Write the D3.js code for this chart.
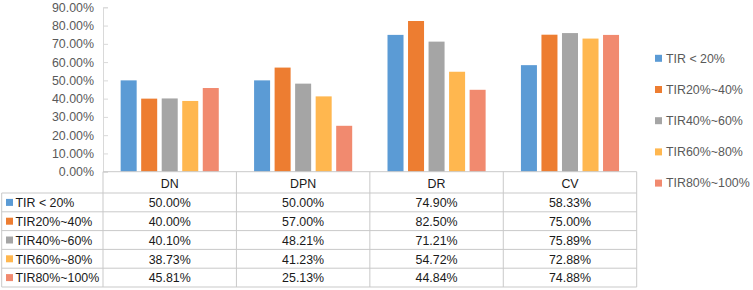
<!DOCTYPE html>
<html>
<head>
<meta charset="utf-8">
<script src="https://cdn.jsdelivr.net/npm/d3@7"></script>
<style>
  body { margin: 0; background: #fff; }
  svg text { font-family: "Liberation Sans", Arial, sans-serif; font-size: 12.4px; }
</style>
</head>
<body>
<svg class="tir-chart" width="753" height="290"></svg>
<script>
/**********************
 Data
**********************/
var categories = ["DN", "DPN", "DR", "CV"];
var series = ["TIR < 20%", "TIR20%~40%", "TIR40%~60%", "TIR60%~80%", "TIR80%~100%"];
var colors = ["#5b9bd5", "#ed7d31", "#a5a5a5", "#ffb74f", "#f18a6f"];
// one row per series, values in percent, same order as categories
var valuesLt20 = [50.00, 50.00, 74.90, 58.33];
var values20to40 = [40.00, 57.00, 82.50, 75.00];
var values40to60 = [40.10, 48.21, 71.21, 75.89];
var values60to80 = [38.73, 41.23, 54.72, 72.88];
var values80to100 = [45.81, 25.13, 44.84, 74.88];
var yTicks = [0, 10, 20, 30, 40, 50, 60, 70, 80, 90];

var rows = [valuesLt20, values20to40, values40to60, values60to80, values80to100];

/**********************
 Layout
**********************/
var svg = d3.select('svg.tir-chart');
var plot = {l: 103, r: 636.7, t: 7.3, b: 171.7};
var headerH = 21.3, rowH = 18.8;
var gridColor = '#c9c9c9';

var x0 = d3.scaleBand().domain(categories).range([plot.l, plot.r]);
var x1 = d3.scaleBand().domain(series)
    .range([0, x0.bandwidth()])
    .paddingInner(0.22)
    .paddingOuter(0.86);
var yScale = d3.scaleLinear().domain([0, 90]).range([plot.b, plot.t]);

/**********************
 Y axis
**********************/
var yAxisG = svg.append('g')
    .attr('transform', 'translate(' + plot.l + ',0)')
    .call(d3.axisLeft(yScale)
        .tickValues(yTicks)
        .tickSize(-5)
        .tickPadding(9)
        .tickFormat(function(d) { return d3.format('.2f')(d) + '%'; }));
yAxisG.select('.domain').attr('stroke', '#d9d9d9');
yAxisG.selectAll('.tick line').attr('stroke', '#d9d9d9');
yAxisG.selectAll('.tick text')
    .attr('fill', '#595959')
    .style('font-size', '12.4px')
    .style('font-family', '"Liberation Sans", Arial, sans-serif');

/**********************
 Bars
**********************/
var groups = svg.selectAll('.group')
    .data(categories)
    .enter().append('g')
    .attr('class', 'group')
    .attr('transform', function(d) { return 'translate(' + x0(d) + ',0)'; });

groups.selectAll('rect')
    .data(function(d, ci) {
        return series.map(function(s, si) { return {s: s, si: si, v: rows[si][ci]}; });
    })
    .enter().append('rect')
    .attr('x', function(d) { return x1(d.s); })
    .attr('width', x1.bandwidth())
    .attr('y', function(d) { return yScale(d.v); })
    .attr('height', function(d) { return plot.b - yScale(d.v); })
    .attr('fill', function(d) { return colors[d.si]; });

/**********************
 Data table
**********************/
var tableTop = plot.b;
var tableLeft = 1.7;
var tableBottom = tableTop + headerH + rowH * series.length;
var tbl = svg.append('g').attr('class', 'data-table');

// horizontal lines
tbl.append('line')
    .attr('x1', plot.l).attr('x2', plot.r)
    .attr('y1', tableTop).attr('y2', tableTop);
d3.range(series.length + 1).forEach(function(i) {
    var yy = tableTop + headerH + i * rowH;
    tbl.append('line')
        .attr('x1', tableLeft).attr('x2', plot.r)
        .attr('y1', yy).attr('y2', yy);
});
// vertical lines
tbl.append('line')
    .attr('x1', tableLeft).attr('x2', tableLeft)
    .attr('y1', tableTop + headerH).attr('y2', tableBottom);
categories.concat(['end']).forEach(function(c, i) {
    var xx = plot.l + i * x0.bandwidth();
    tbl.append('line')
        .attr('x1', xx).attr('x2', xx)
        .attr('y1', tableTop).attr('y2', tableBottom);
});
tbl.selectAll('line').attr('stroke', gridColor).attr('stroke-width', 1);

// header
tbl.selectAll('.head')
    .data(categories)
    .enter().append('text')
    .attr('class', 'head')
    .attr('x', function(d) { return x0(d) + x0.bandwidth() / 2; })
    .attr('y', tableTop + headerH / 2 + 1)
    .attr('dy', '0.35em')
    .attr('text-anchor', 'middle')
    .attr('fill', '#1a1a1a')
    .text(function(d) { return d; });

// row labels with swatches
series.forEach(function(s, si) {
    var cy = tableTop + headerH + si * rowH + rowH / 2;
    tbl.append('rect')
        .attr('x', 6).attr('y', cy - 3.5)
        .attr('width', 7).attr('height', 7)
        .attr('fill', colors[si]);
    tbl.append('text')
        .attr('x', 15.5).attr('y', cy + 0.5)
        .attr('dy', '0.35em')
        .attr('fill', '#1a1a1a')
        .text(s);
    categories.forEach(function(c, ci) {
        tbl.append('text')
            .attr('x', x0(c) + x0.bandwidth() / 2)
            .attr('y', cy + 0.5)
            .attr('dy', '0.35em')
            .attr('text-anchor', 'middle')
            .attr('fill', '#1a1a1a')
            .text(d3.format('.2f')(rows[si][ci]) + '%');
    });
});

/**********************
 Legend
**********************/
var legend = svg.append('g').attr('class', 'legend');
series.forEach(function(s, si) {
    var cy = 58.3 + si * 31.2;
    legend.append('rect')
        .attr('x', 655).attr('y', cy - 3.5)
        .attr('width', 7).attr('height', 7)
        .attr('fill', colors[si]);
    legend.append('text')
        .attr('x', 666).attr('y', cy)
        .attr('dy', '0.35em')
        .attr('fill', '#595959')
        .text(s);
});
</script>
</body>
</html>
